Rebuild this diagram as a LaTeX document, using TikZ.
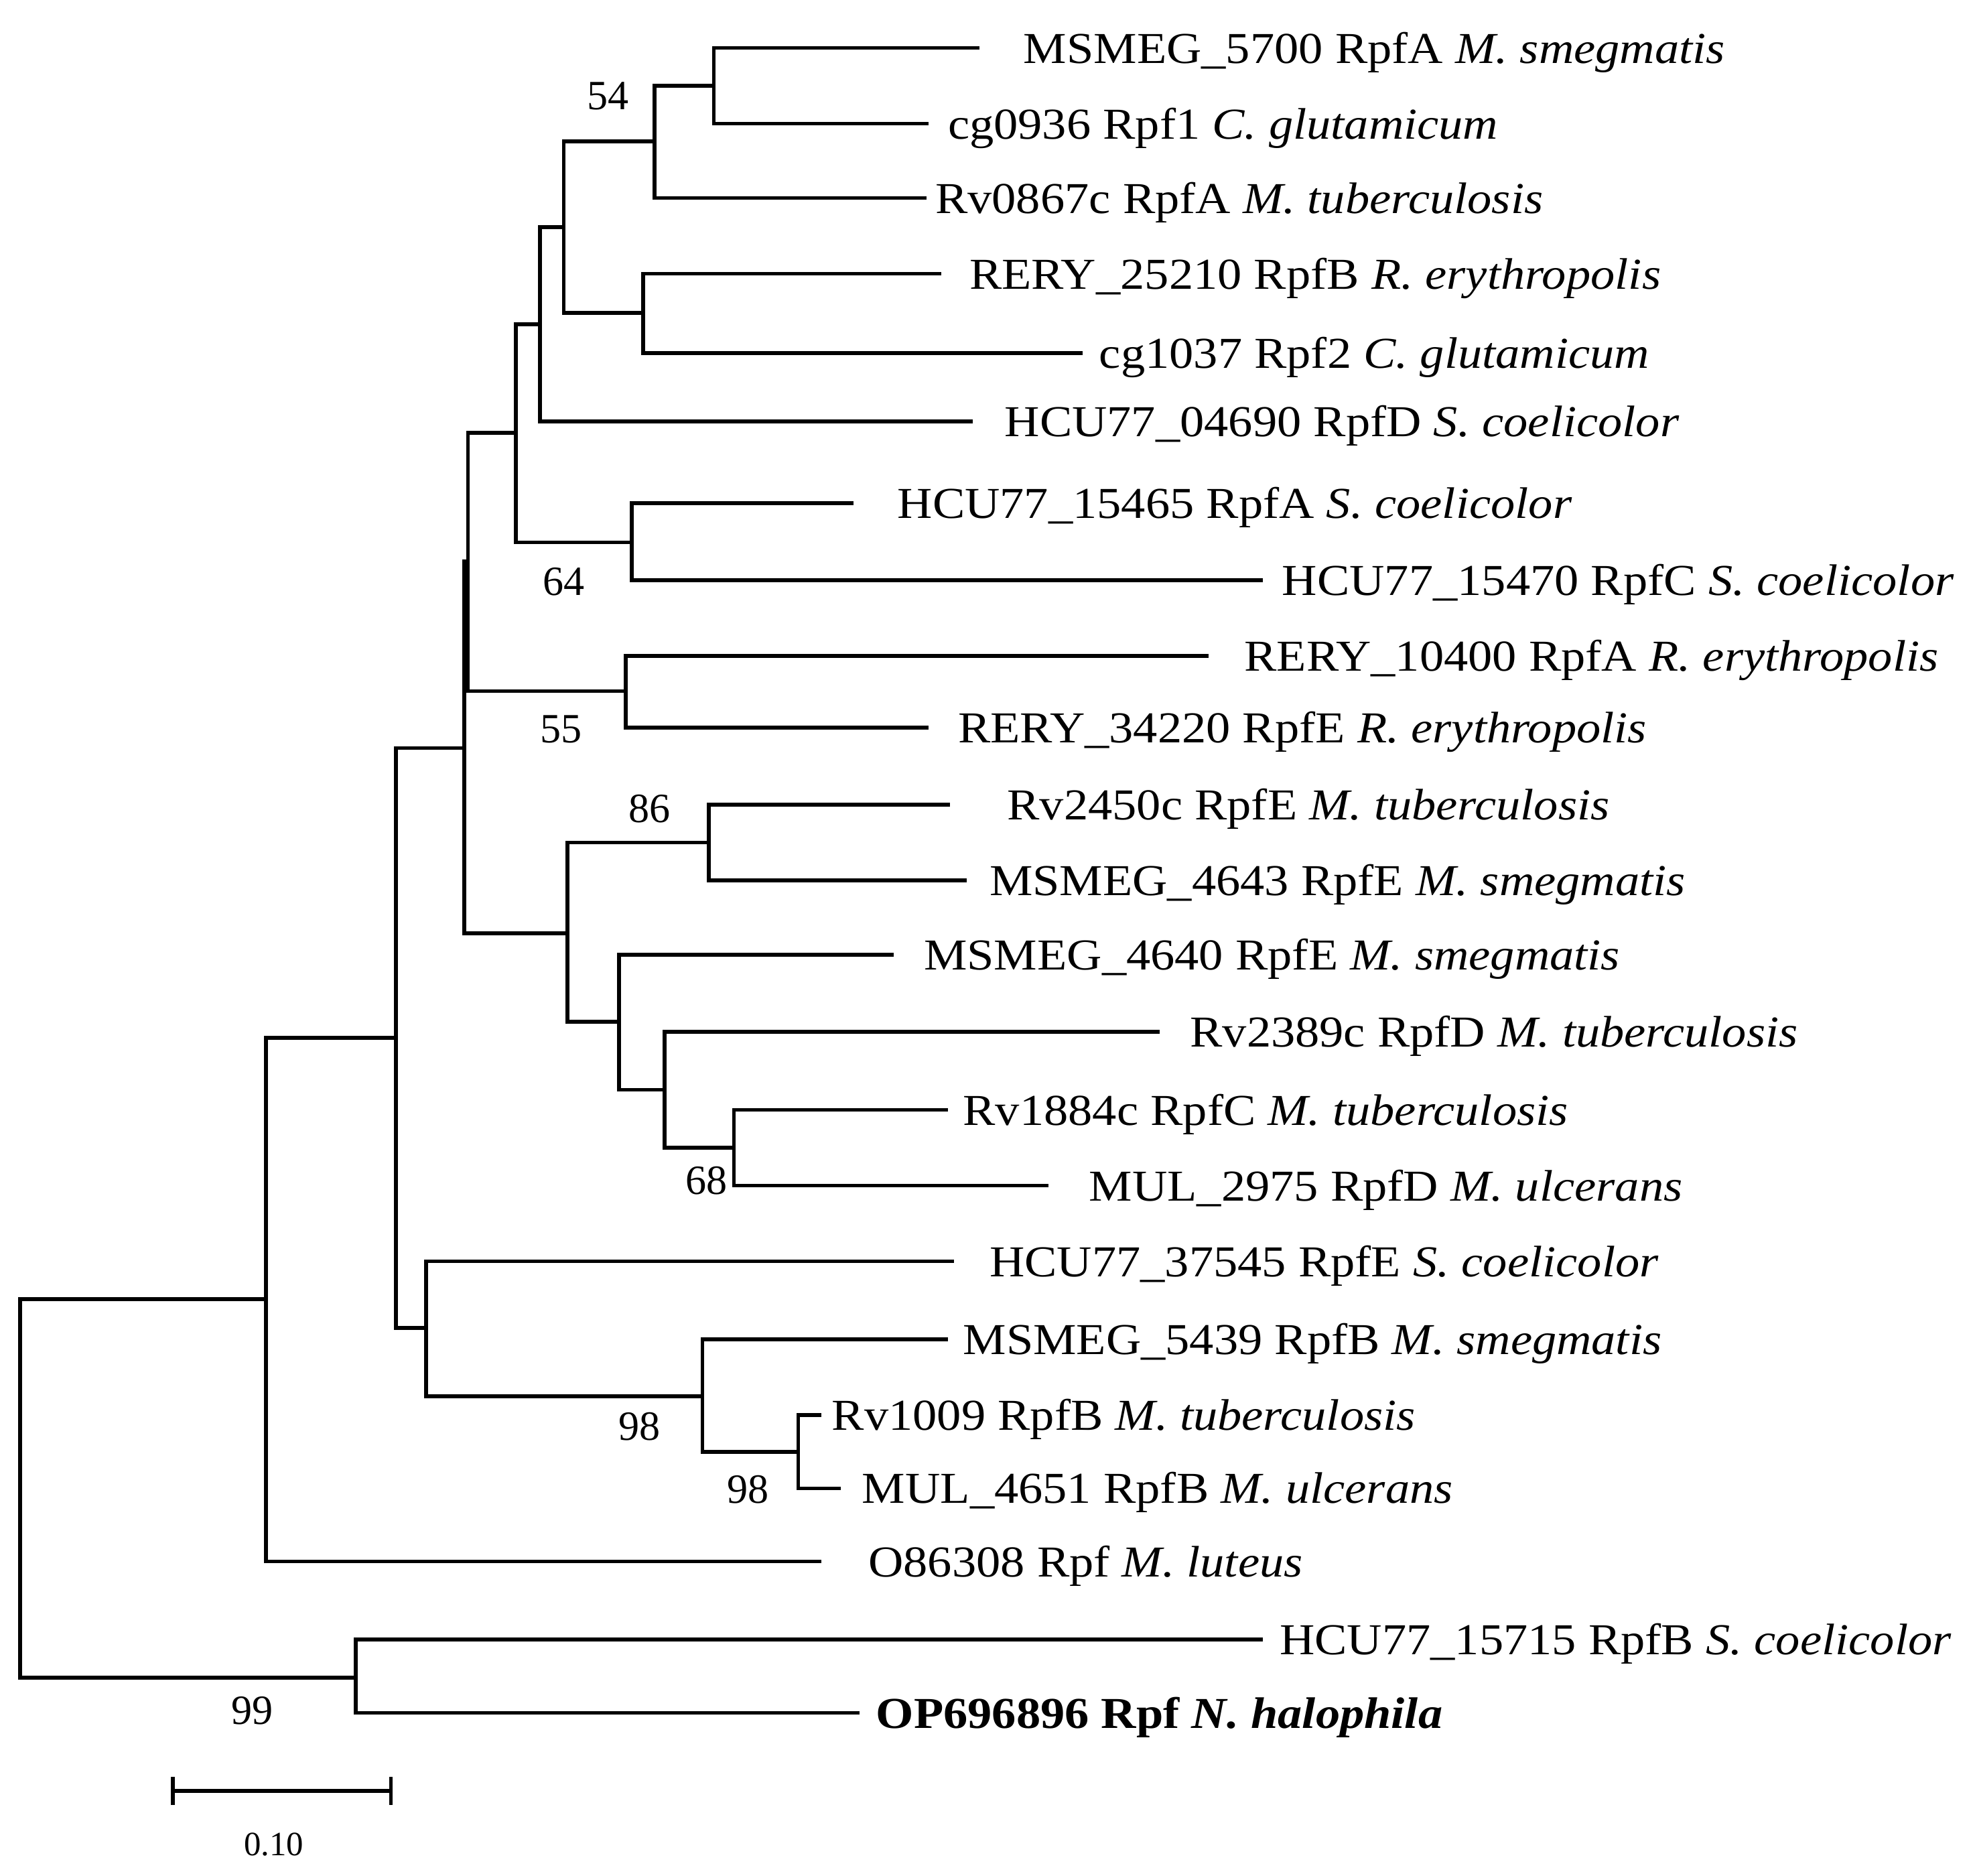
\documentclass[tikz,border=0pt]{standalone}
\usepackage{fontspec}
\setmainfont{Liberation Serif}
\begin{document}
\begin{tikzpicture}[x=1pt,y=-1pt,line width=3pt,line cap=rect,
 lab/.style={anchor=base west,inner sep=0pt,xscale=1.1,font=\fontsize{35}{40}\selectfont},
 bs/.style={anchor=base,inner sep=0pt,font=\fontsize{33}{38}\selectfont}]
\useasboundingbox (0,0) rectangle (1566,1487);
% internal nodes
\coordinate (A) at (566,68);
\coordinate (B) at (519,112);
\coordinate (C) at (510,248);
\coordinate (D) at (447,180);
\coordinate (E) at (428,257);
\coordinate (F) at (501,430);
\coordinate (G) at (409,343);
\coordinate (H) at (496,548);
\coordinate (I) at (371,445);
\coordinate (K) at (562,668);
\coordinate (L) at (582,910);
\coordinate (M) at (527,864);
\coordinate (N) at (491,810);
\coordinate (O) at (450,740);
\coordinate (J) at (368,593);
\coordinate (P) at (633,1151);
\coordinate (Q) at (557,1107);
\coordinate (R) at (338,1053);
\coordinate (S) at (314,823);
\coordinate (T) at (211,1030);
\coordinate (U) at (282,1330);
\coordinate (root) at (16,1180);
% leaves
\foreach \n/\x/\y/\tx/\t in {
 l1/775/38/810/{MSMEG\_5700 RpfA \textit{M. smegmatis}},
 l2/735/98/750/{cg0936 Rpf1 \textit{C. glutamicum}},
 l3/733/157/740/{Rv0867c RpfA \textit{M. tuberculosis}},
 l4/745/217/767/{RERY\_25210 RpfB \textit{R. erythropolis}},
 l5/857/280/870/{cg1037 Rpf2 \textit{C. glutamicum}},
 l6/770/334/795/{HCU77\_04690 RpfD \textit{S. coelicolor}},
 l7/675/399/710/{HCU77\_15465 RpfA \textit{S. coelicolor}},
 l8/1000/460/1015/{HCU77\_15470 RpfC \textit{S. coelicolor}},
 l9/957/520/985/{RERY\_10400 RpfA \textit{R. erythropolis}},
 l10/735/577/758/{RERY\_34220 RpfE \textit{R. erythropolis}},
 l11/752/638/797/{Rv2450c RpfE \textit{M. tuberculosis}},
 l12/765/698/783/{MSMEG\_4643 RpfE \textit{M. smegmatis}},
 l13/707/757/731/{MSMEG\_4640 RpfE \textit{M. smegmatis}},
 l14/918/818/942/{Rv2389c RpfD \textit{M. tuberculosis}},
 l15/750/880/762/{Rv1884c RpfC \textit{M. tuberculosis}},
 l16/830/940/862/{MUL\_2975 RpfD \textit{M. ulcerans}},
 l17/755/1000/783/{HCU77\_37545 RpfE \textit{S. coelicolor}},
 l18/750/1062/762/{MSMEG\_5439 RpfB \textit{M. smegmatis}},
 l19/650/1122/658/{Rv1009 RpfB \textit{M. tuberculosis}},
 l20/665/1180/682/{MUL\_4651 RpfB \textit{M. ulcerans}},
 l21/650/1238/687/{O86308 Rpf \textit{M. luteus}},
 l22/1000/1300/1013/{HCU77\_15715 RpfB \textit{S. coelicolor}},
 l23/680/1358/693/{\textbf{OP696896 Rpf \textit{N. halophila}}}}{
 \coordinate (\n) at (\x,\y);
 \node[lab] (t\n) at (\tx,\y+12) {\t};
}
% clade drawing: parent, child1, child2
\foreach \p/\a/\b in {A/l1/l2, B/A/l3, C/l4/l5, D/B/C, E/D/l6, F/l7/l8, G/E/F,
 H/l9/l10, I/G/H, K/l11/l12, L/l15/l16, M/l14/L, N/l13/M, O/K/N, J/I/O,
 P/l19/l20, Q/l18/P, R/l17/Q, S/J/R, T/S/l21, U/l22/l23, root/T/U}{
 \draw (\p |- \a) -- (\a);
 \draw (\p |- \b) -- (\b);
 \draw (\p |- \a) -- (\p |- \b);
}
% bootstrap values
\node[bs] (b54) at (482,87) {54};
\node[bs] (b64) at (447,472) {64};
\node[bs] (b55) at (445,589) {55};
\node[bs] (b86) at (515,652) {86};
\node[bs] (b68) at (560,947) {68};
\node[bs] (b98a) at (507,1142) {98};
\node[bs] (b98b) at (593,1192) {98};
\node[bs] (b99) at (200,1367) {99};
% scale bar
\coordinate (s1) at (137,1420);
\coordinate (s2) at (310,1420);
\draw[line cap=butt] (s1) -- (s2);
\draw[line cap=butt] ([yshift=-11pt]s1) -- ([yshift=11pt]s1);
\draw[line cap=butt] ([yshift=-11pt]s2) -- ([yshift=11pt]s2);
\node[bs,font=\fontsize{27}{30}\selectfont] (sl) at (217,1471) {0.10};
\end{tikzpicture}
\end{document}
